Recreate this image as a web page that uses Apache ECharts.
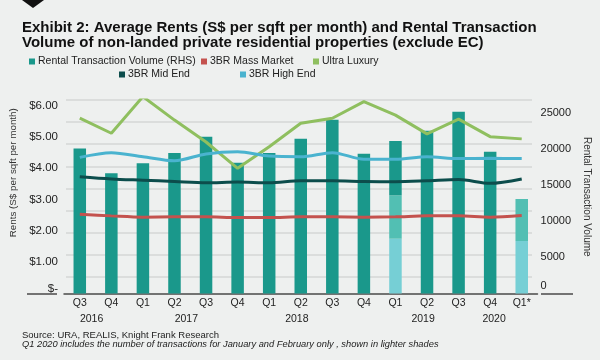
<!DOCTYPE html>
<html>
<head>
<meta charset="utf-8">
<script src="https://cdn.jsdelivr.net/npm/echarts@6/dist/echarts.min.js"></script>
<style>
html,body{margin:0;padding:0;background:#eef0ef;}
#chart{width:600px;height:360px;}
</style>
</head>
<body>
<div id="chart"></div>
<script>
// ---- data ----
const quarters = ['Q3','Q4','Q1','Q2','Q3','Q4','Q1','Q2','Q3','Q4','Q1','Q2','Q3','Q4','Q1*'];
const yearLabels = ['2016','2017','2018','2019','2020'];
const yearSlot = [3, 15, 29, 45, 54]; // quarter-of-category slot where each year label sits
const volumeTotal = [20100, 16650, 18030, 19460, 21720, 18120, 19460, 21440, 24070, 19360, 21120, 22550, 25180, 19640, 13090];
const volumeJan = [null, null, null, null, null, null, null, null, null, null, 7590, null, null, null, 7270];
const volumeFeb = [null, null, null, null, null, null, null, null, null, null, 6010, null, null, null, 5820];
const massMarket = [2.53, 2.48, 2.44, 2.45, 2.45, 2.43, 2.43, 2.45, 2.45, 2.44, 2.45, 2.48, 2.48, 2.44, 2.49];
const ultraLuxury = [5.60, 5.12, 6.29, 5.54, 4.84, 4.00, 4.69, 5.44, 5.60, 6.13, 5.70, 5.10, 5.57, 5.01, 4.94];
const midEnd = [3.73, 3.66, 3.62, 3.58, 3.54, 3.56, 3.54, 3.60, 3.60, 3.58, 3.57, 3.60, 3.64, 3.52, 3.66];
const highEnd = [4.35, 4.50, 4.37, 4.24, 4.46, 4.53, 4.39, 4.37, 4.50, 4.29, 4.29, 4.37, 4.31, 4.32, 4.31];
const leftTicks = [0, 1, 2, 3, 4, 5, 6];
const rightTicks = [0, 5000, 10000, 15000, 20000, 25000];

// ---- derived ----
const volumeRest = volumeTotal.map((v, i) => {
  const r = v - (volumeJan[i] || 0) - (volumeFeb[i] || 0);
  return r > 0 ? r : null;
});
const yearAxisData = new Array(quarters.length * 4).fill('');
yearLabels.forEach((y, i) => { yearAxisData[yearSlot[i]] = y; });

const FONT = "'Liberation Sans', Arial, sans-serif";
const C = {
  bar: '#1a988b', barFeb: '#52bfb3', barJan: '#76cfd5',
  mass: '#c4524e', ultra: '#8fbf5f', mid: '#0c4d4c', high: '#4ab3cf'
};

const chart = echarts.init(document.getElementById('chart'), null, {renderer: 'canvas'});

function legendAt(name, left, top) {
  return {
    data: [name], left: left, top: top, padding: 0, icon: 'rect',
    itemWidth: 6, itemHeight: 6, itemGap: 0, selectedMode: false,
    textStyle: {fontFamily: FONT, fontSize: 10.5, color: '#222', padding: [0, 0, 0, -2]}
  };
}

const option = {
  backgroundColor: '#eef0ef',
  animation: false,
  title: {
    text: 'Exhibit 2: Average Rents (S$ per sqft per month) and Rental Transaction\nVolume of non-landed private residential properties (exclude EC)',
    left: 22, top: 21, padding: 0,
    textStyle: {fontFamily: "'Liberation Sans Narrow', 'Liberation Sans', Arial, sans-serif", fontWeight: 'bold', fontSize: 15, lineHeight: 14.5, color: '#111'}
  },
  legend: [
    legendAt('Rental Transaction Volume (RHS)', 29, 56),
    legendAt('3BR Mass Market', 201, 56),
    legendAt('Ultra Luxury', 313, 56),
    legendAt('3BR Mid End', 119, 69),
    legendAt('3BR High End', 240, 69)
  ],
  grid: [
    {left: 63, right: 61.4, top: 100, height: 193.5},
    {left: 66, right: 68, top: 100, height: 198.8}
  ],
  xAxis: [
    {
      type: 'category', gridIndex: 0, data: quarters,
      axisLine: {lineStyle: {color: '#4a4a4a', width: 1.5}},
      axisTick: {show: false},
      axisLabel: {fontFamily: FONT, fontSize: 10.5, color: '#222', margin: 4, interval: 0}
    },
    {
      type: 'category', gridIndex: 0, data: yearAxisData, position: 'bottom', offset: 16,
      axisLine: {show: false}, axisTick: {show: false},
      axisLabel: {fontFamily: FONT, fontSize: 10.5, color: '#222', margin: 4, interval: 0}
    },
    {type: 'category', gridIndex: 1, data: quarters, show: false}
  ],
  yAxis: [
    {
      type: 'value', gridIndex: 0, position: 'left', min: 0, max: 6.182, interval: 1,
      splitLine: {show: false}, axisLine: {show: false}, axisTick: {show: false},
      name: 'Rents (S$ per sqft per month)', nameLocation: 'middle', nameGap: 46,
      nameTextStyle: {fontFamily: FONT, fontSize: 9.8, color: '#333', padding: [0, 0, 0, 48]},
      axisLabel: {
        fontFamily: FONT, fontSize: 11.5, color: '#222', margin: 6, showMaxLabel: false,
        formatter: v => leftTicks.indexOf(v) < 0 ? '' : (v === 0 ? '{z|$-}' : '$' + v.toFixed(2)),
        rich: {z: {fontFamily: FONT, fontSize: 11.5, color: '#222', padding: [0, 0, 10, 0]}}
      }
    },
    {
      type: 'value', gridIndex: 0, position: 'right', min: 0, max: 26800, interval: 5000,
      splitLine: {show: false}, axisLine: {show: false}, axisTick: {show: false},
      name: 'Rental Transaction Volume', nameLocation: 'middle', nameGap: 42, nameRotate: -90,
      nameTextStyle: {fontFamily: FONT, fontSize: 10, color: '#333'},
      axisLabel: {
        fontFamily: FONT, fontSize: 11, color: '#222', margin: 3, showMaxLabel: false,
        formatter: v => rightTicks.indexOf(v) < 0 ? '' : (v === 0 ? '{z|0}' : String(v)),
        rich: {z: {fontFamily: FONT, fontSize: 11, color: '#222', padding: [0, 0, 15, 0]}}
      }
    },
    {
      type: 'value', gridIndex: 1, min: 0, max: 9, interval: 1,
      axisLine: {show: false}, axisTick: {show: false}, axisLabel: {show: false},
      splitLine: {show: true, showMinLine: false, lineStyle: {color: '#d5d7d6', width: 1.5}}
    }
  ],
  series: [
    {name: 'Jan', type: 'bar', stack: 'vol', xAxisIndex: 0, yAxisIndex: 1, data: volumeJan, barWidth: 12.5, itemStyle: {color: C.barJan}},
    {name: 'Feb', type: 'bar', stack: 'vol', xAxisIndex: 0, yAxisIndex: 1, data: volumeFeb, barWidth: 12.5, itemStyle: {color: C.barFeb}},
    {name: 'Rental Transaction Volume (RHS)', type: 'bar', stack: 'vol', xAxisIndex: 0, yAxisIndex: 1, data: volumeRest, barWidth: 12.5, itemStyle: {color: C.bar}},
    {name: '3BR Mass Market', type: 'line', xAxisIndex: 0, yAxisIndex: 0, data: massMarket, smooth: 0.3, symbol: 'none', lineStyle: {width: 3, color: C.mass}, itemStyle: {color: C.mass}},
    {name: 'Ultra Luxury', type: 'line', xAxisIndex: 0, yAxisIndex: 0, data: ultraLuxury, symbol: 'none', lineStyle: {width: 3, color: C.ultra}, itemStyle: {color: C.ultra}},
    {name: '3BR Mid End', type: 'line', xAxisIndex: 0, yAxisIndex: 0, data: midEnd, smooth: 0.3, symbol: 'none', lineStyle: {width: 3, color: C.mid}, itemStyle: {color: C.mid}},
    {name: '3BR High End', type: 'line', xAxisIndex: 0, yAxisIndex: 0, data: highEnd, smooth: 0.3, symbol: 'none', lineStyle: {width: 3, color: C.high}, itemStyle: {color: C.high}}
  ],
  graphic: [
    {type: 'polygon', shape: {points: [[22, 0], [44, 0], [33, 8]]}, style: {fill: '#111'}},
    {type: 'line', shape: {x1: 27, y1: 294, x2: 57, y2: 294}, style: {stroke: '#4a4a4a', lineWidth: 1.5}},
    {type: 'line', shape: {x1: 541, y1: 294, x2: 573, y2: 294}, style: {stroke: '#4a4a4a', lineWidth: 1.5}},
    {type: 'text', left: 22, top: 330, style: {text: 'Source: URA, REALIS, Knight Frank Research', font: '9.5px ' + FONT, fill: '#222'}},
    {type: 'text', left: 22, top: 339.5, style: {text: 'Q1 2020 includes the number of transactions for January and February only , shown in lighter shades', font: 'italic 9.3px ' + FONT, fill: '#222'}}
  ]
};
chart.setOption(option);
</script>
</body>
</html>
